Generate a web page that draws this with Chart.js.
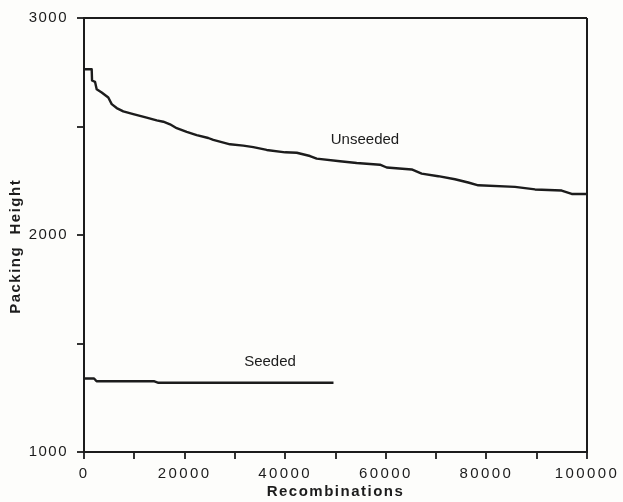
<!DOCTYPE html>
<html>
<head>
<meta charset="utf-8">
<script src="https://cdn.jsdelivr.net/npm/chart.js@4/dist/chart.umd.min.js"></script>
<style>
    html, body { margin: 0; padding: 0; background: #fdfdfb; }
    #wrap { width: 623px; height: 502px; position: relative; }
</style>
</head>
<body>
<div id="wrap"><canvas id="packChart"></canvas></div>
<script>
/* global Chart */

// Unseeded run: best packing height against recombinations
const unseededX = [0, 1530, 1600, 2190, 2520, 3520, 4830, 5510, 6500, 7810,
    9800, 12460, 14450, 15770, 17100, 18430, 20420, 22400, 24710, 25700,
    29030, 31670, 33660, 36320, 40000, 42290, 44930, 46260, 50890, 54210,
    58840, 60180, 65150, 67130, 70430, 73750, 76390, 78380, 85680, 89660,
    94960, 96960, 100000];
const unseededY = [2764, 2764, 2712, 2706, 2672, 2657, 2634, 2603, 2585, 2570,
    2557, 2541, 2528, 2522, 2510, 2492, 2475, 2460, 2447, 2438,
    2418, 2412, 2405, 2392, 2381, 2379, 2364, 2352, 2340, 2332,
    2324, 2311, 2302, 2283, 2271, 2257, 2242, 2229, 2222, 2210,
    2205, 2189, 2189];

// Seeded run
const seededX = [0, 2000, 2500, 14000, 14800, 49600];
const seededY = [1339, 1339, 1326, 1326, 1319, 1319];

// Axis ticks
const xTicks = [0, 20000, 40000, 60000, 80000, 100000];
const yTicks = [1000, 2000, 3000];

// Series labels, anchored in data units
const seriesLabels = [
    { text: 'Unseeded', x: 55860, y: 2439 },
    { text: 'Seeded',   x: 36980, y: 1414 },
];

const INK  = '#1c1c1c';
const FONT = "'Liberation Sans', Arial, Helvetica, sans-serif";

const toPoints = (xs, ys) => xs.map((x, i) => ({ x, y: ys[i] }));

// titles + y labels share one spacing, x labels (drawn after datasets) get a wider one
const letterSpacing = {
    id: 'letterSpacing',
    beforeDraw(chart)        { chart.ctx.letterSpacing = '1.5px'; },
    afterDatasetsDraw(chart) { chart.ctx.letterSpacing = '2.4px'; },
    afterDraw(chart)         { chart.ctx.letterSpacing = '0px'; },
};

const curveLabels = {
    id: 'curveLabels',
    afterDraw(chart) {
        const { ctx, scales: { x, y } } = chart;
        ctx.save();
        ctx.letterSpacing = '0px';
        ctx.font = `15px ${FONT}`;
        ctx.fillStyle = INK;
        ctx.textAlign = 'center';
        ctx.textBaseline = 'middle';
        seriesLabels.forEach(l => {
            ctx.fillText(l.text, x.getPixelForValue(l.x), y.getPixelForValue(l.y));
        });
        ctx.restore();
    },
};

const lineStyle = {
    borderColor:     INK,
    borderWidth:     2.4,
    borderJoinStyle: 'round',
    pointRadius:     0,
    tension:         0,
    fill:            false,
};

new Chart(document.getElementById('packChart').getContext('2d'), {
    type: 'line',
    data: {
        datasets: [
            { label: 'Unseeded', data: toPoints(unseededX, unseededY), ...lineStyle },
            { label: 'Seeded',   data: toPoints(seededX, seededY),     ...lineStyle },
        ],
    },
    options: {
        responsive:          true,
        maintainAspectRatio: false,
        animation:           false,
        layout:              { padding: { top: 17, right: 36, left: 0, bottom: 0 } },
        plugins:             { legend: { display: false }, tooltip: { enabled: false } },
        scales: {
            x: {
                type: 'linear',
                min:  0,
                max:  100000,
                afterFit: s => { s.height = 50; },
                grid: {
                    color:      c => (c.tick && c.tick.value === 100000) ? INK : 'rgba(0,0,0,0)',
                    lineWidth:  2,
                    tickColor:  INK,
                    tickWidth:  1.8,
                    tickLength: 7,
                },
                border: { color: INK, width: 2 },
                ticks: {
                    z:           1,
                    stepSize:    10000,
                    autoSkip:    false,
                    maxRotation: 0,
                    minRotation: 0,
                    padding:     6,
                    color:       INK,
                    font:        { family: FONT, size: 15 },
                    callback:    v => xTicks.includes(v) ? String(v) : '',
                },
                title: {
                    display: true,
                    text:    'Recombinations',
                    color:   INK,
                    font:    { family: FONT, size: 15, weight: 'bold' },
                    padding: { top: 0, bottom: 1 },
                },
            },
            y: {
                min: 1000,
                max: 3000,
                afterFit: s => { s.width = 84; },
                grid: {
                    color:      c => (c.tick && c.tick.value === 3000) ? INK : 'rgba(0,0,0,0)',
                    lineWidth:  2,
                    tickColor:  INK,
                    tickWidth:  1.8,
                    tickLength: 7,
                },
                border: { color: INK, width: 2 },
                ticks: {
                    stepSize: 500,
                    padding:  9,
                    color:    INK,
                    font:     { family: FONT, size: 15 },
                    callback: v => yTicks.includes(v) ? String(v) : '',
                },
                title: {
                    display: true,
                    // trailing blanks push the rotated title a little lower
                    text:    'Packing  Height    ',
                    color:   INK,
                    font:    { family: FONT, size: 15, weight: 'bold' },
                    padding: { top: 7, bottom: 0 },
                },
            },
        },
    },
    plugins: [letterSpacing, curveLabels],
});
</script>
</body>
</html>
